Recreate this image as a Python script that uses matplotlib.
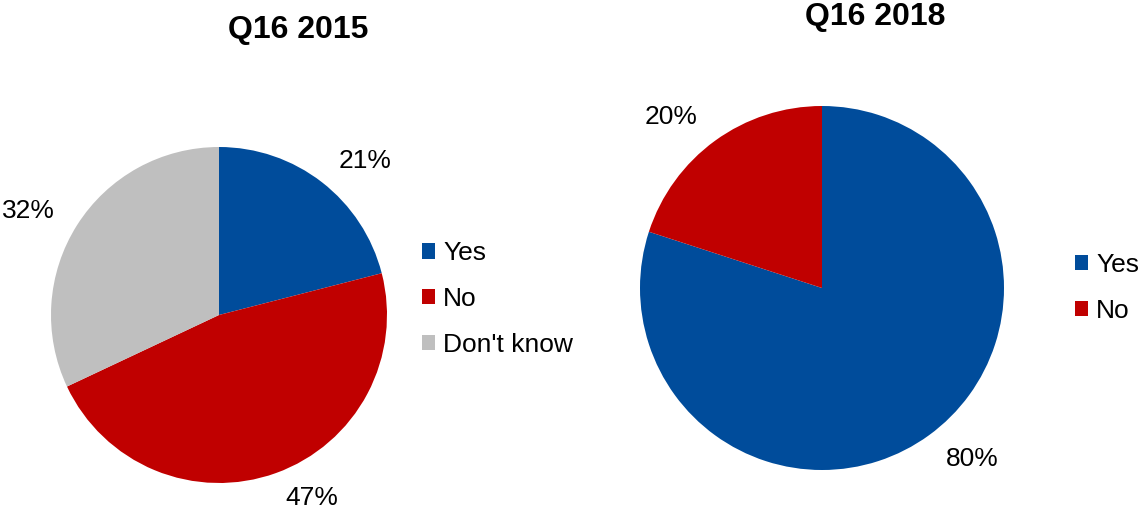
import matplotlib.pyplot as plt
from matplotlib.patches import Patch

plt.rcParams["font.family"] = ["Liberation Sans", "DejaVu Sans"]

W, H = 1146, 514

LABELS_2015 = ["Yes", "No", "Don't know"]
VALUES_2015 = [21, 47, 32]
COLORS_2015 = ["#004C9B", "#C00000", "#BFBFBF"]

LABELS_2018 = ["Yes", "No"]
VALUES_2018 = [80, 20]
COLORS_2018 = ["#004C9B", "#C00000"]


def px_box(cx, cy, r):
    # square axes centred on (cx, cy) in pixel coords, top-left origin
    return [(cx - r) / W, (H - cy - r) / H, 2 * r / W, 2 * r / H]


def draw_pie(ax, values, colors):
    ax.pie(
        values,
        colors=colors,
        startangle=90,
        counterclock=False,
        labels=[f"{v}%" for v in values],
        labeldistance=1.16,
        textprops={"fontsize": 19},
    )
    ax.set_xlim(-1, 1)
    ax.set_ylim(-1, 1)


def add_legend(fig, labels, colors, x, y):
    handles = [Patch(facecolor=c, edgecolor="none") for c in colors]
    fig.legend(
        handles,
        labels,
        loc="center left",
        bbox_to_anchor=(x / W, 1 - y / H),
        frameon=False,
        fontsize=19,
        borderpad=0,
        borderaxespad=0,
        handlelength=0.5,
        handleheight=0.5,
        handletextpad=0.3,
        labelspacing=0.82,
    )


fig = plt.figure(figsize=(W / 100, H / 100), dpi=100)

ax1 = fig.add_axes(px_box(219, 315, 168))
draw_pie(ax1, VALUES_2015, COLORS_2015)
fig.text(298 / W, 1 - 30 / H, "Q16 2015", ha="center", va="center",
         fontsize=23, fontweight="bold")
add_legend(fig, LABELS_2015, COLORS_2015, 422, 299)

ax2 = fig.add_axes(px_box(822, 288, 182))
draw_pie(ax2, VALUES_2018, COLORS_2018)
fig.text(875 / W, 1 - 17 / H, "Q16 2018", ha="center", va="center",
         fontsize=23, fontweight="bold")
add_legend(fig, LABELS_2018, COLORS_2018, 1075, 288)

fig.savefig("out.png", dpi=100)
